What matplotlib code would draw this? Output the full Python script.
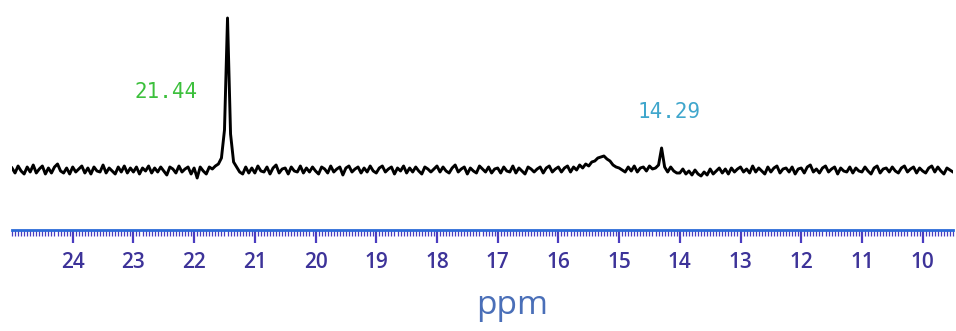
import numpy as np
import matplotlib.pyplot as plt

# spectrum sampled every 0.05 ppm from 25.00 down to 9.50
ppm_start = 25.0
ppm_end = 9.5
intensity = [
    2, -3, 4, -1, -4, 3, -2, 5, -3, 1, 4, -4, 2, -3, 3, 6, -1, -3, 2, -4,     # 25.00 - 24.05
    3, -2, 1, 4, -3, 2, -4, 3, -1, -2, 5, -3, 2, -1, -4, 3, -2, 4, -3, 2,     # 24.00 - 23.05
    -2, 3, -4, 2, -1, 4, -3, 2, -2, 3, -1, -5, 3, 1, -3, 4, -2, 1, 3, -4,     # 23.00 - 22.05
    2, -8, 3, -1, -4, 3, 1, 4, 6, 12, 40, 152, 36, 8, 3, -2, -4, 3, -3, 2,    # 22.00 - 21.05
    -3, 4, -1, -2, 3, -4, 2, 5, -3, 1, 2, -4, 3, -1, -2, 4, -3, 2, -2, 3,     # 21.00 - 20.05
    -1, -4, 3, 1, -3, 4, -2, 1, 3, -5, 2, 4, -2, 1, 3, -3, 2, -2, 4, -1,      # 20.00 - 19.05
    -3, 2, 4, -2, 1, 3, -4, 2, -1, 4, -3, 2, -2, 3, -1, -4, 3, 1, -2, 1,      # 19.00 - 18.05
    4, -2, 3, -1, -3, 2, 5, -2, 1, 3, -4, 2, -1, -3, 4, 1, -2, 3, -3, 1,      # 18.00 - 17.05
    2, -3, 3, -1, -2, 4, -3, 2, -1, -4, 3, 1, -2, 1, 3, -3, 2, 4, -2, 1,      # 17.00 - 16.05
    3, -2, 2, 4, -2, 3, 0, 5, 2, 6, 4, 8, 9, 12, 13, 14, 11, 9, 5, 3,         # 16.00 - 15.05
    2, 0, -2, 3, -1, 4, -2, 2, 3, -1, 4, 1, 2, 5, 22, 3, -2, 3, -1, -3,       # 15.00 - 14.05
    -3, 1, -4, -1, -5, 0, -4, -6, -2, -5, 1, -4, -1, 2, -3, 1, -4, 2, -2, 1,  # 14.00 - 13.05
    3, -2, 1, -3, 4, -2, 2, -1, -4, 3, -2, 2, 4, -3, 1, 2, -2, 3, -4, 1,      # 13.00 - 12.05
    2, -3, 3, 5, -2, 1, -3, 2, 4, -2, 1, 3, -4, 2, -1, -2, 3, -3, 2, -1,      # 12.00 - 11.05
    -2, 3, -1, -4, 2, 4, -3, 1, 2, -2, 3, -1, -3, 2, 4, -2, 1, 3, -3, 2,      # 11.00 - 10.05
    -1, -3, 2, 4, -2, 3, -1, -4, 2, 0, -2,                                    # 10.00 - 9.50
]
ppm = np.linspace(ppm_start, ppm_end, len(intensity))

peak_labels = ["21.44", "14.29"]
peak_label_pos = [(22.47, 78), (14.18, 58)]
peak_label_colors = ["#3cc03c", "#3fa6cc"]

fig = plt.figure(figsize=(9.56, 3.31), dpi=100)
ax = fig.add_axes([12 / 956, 101 / 331, 941 / 956, 220 / 331])

ax.plot(ppm, intensity, color="black", lw=2.1)
ax.set_xlim(ppm_start, ppm_end)
ax.set_ylim(-60, 160)

for txt, (x, y), c in zip(peak_labels, peak_label_pos, peak_label_colors):
    ax.text(x, y, txt, color=c, fontsize=15, family="DejaVu Sans Mono",
            ha="center", va="center")

for s in ["top", "left", "right"]:
    ax.spines[s].set_visible(False)
ax.spines["bottom"].set_color("#2a6ad8")
ax.spines["bottom"].set_linewidth(2)

ax.set_xticks(np.arange(24, 9, -1))
ax.set_xticks(np.arange(25, 9.45, -0.05), minor=True)
ax.tick_params(axis="x", which="major", length=9, width=1.6, color="#4a3cc0",
               pad=7, labelsize=15, labelcolor="#3d3399")
ax.tick_params(axis="x", which="minor", length=4, width=0.9, color="#4a3cc0")
for lab in ax.get_xticklabels():
    lab.set_fontfamily("Open Sans")
    lab.set_fontweight("semibold")
ax.set_yticks([])

ax.set_xlabel("ppm", fontsize=24, color="#4a6fb8", family="Open Sans")
ax.xaxis.set_label_coords(0.532, -0.27)

fig.savefig("out.png", dpi=100, facecolor="white")
